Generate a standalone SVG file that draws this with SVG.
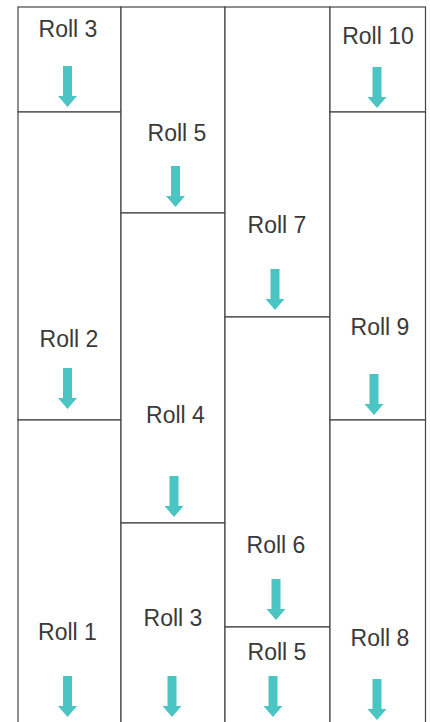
<svg xmlns="http://www.w3.org/2000/svg" xmlns:xlink="http://www.w3.org/1999/xlink" width="430" height="722" viewBox="0 0 430 722">
<style>
.box{fill:#fff;stroke:#444;stroke-width:1.2}
.lbl{font-family:"Liberation Sans",Arial,sans-serif;font-size:23px;fill:#3a3a3a;text-anchor:middle}
.arr{fill:#4bc4c4}
</style>
<defs>
<path id="arrow" d="M-4.5,-41 H4.5 V-11 H9.5 L0,0 L-9.5,-11 H-4.5 Z"/>
</defs>
<rect width="430" height="722" fill="#fff"/>
<g id="col1">
<g id="c1-roll3"><rect class="box" x="18" y="7" width="103" height="105"/><text class="lbl" x="68" y="37">Roll 3</text></g>
<g id="c1-roll2"><rect class="box" x="18" y="112" width="103" height="308"/><text class="lbl" x="69" y="347">Roll 2</text></g>
<g id="c1-roll1"><rect class="box" x="18" y="420" width="103" height="320"/><text class="lbl" x="67.5" y="640">Roll 1</text></g>
</g>
<g id="col2">
<g id="c2-roll5"><rect class="box" x="121" y="7" width="104" height="206"/><text class="lbl" x="177" y="141">Roll 5</text></g>
<g id="c2-roll4"><rect class="box" x="121" y="213" width="104" height="310"/><text class="lbl" x="175.5" y="423">Roll 4</text></g>
<g id="c2-roll3"><rect class="box" x="121" y="523" width="104" height="217"/><text class="lbl" x="173" y="626">Roll 3</text></g>
</g>
<g id="col3">
<g id="c3-roll7"><rect class="box" x="225" y="7" width="105" height="310"/><text class="lbl" x="277" y="233">Roll 7</text></g>
<g id="c3-roll6"><rect class="box" x="225" y="317" width="105" height="310"/><text class="lbl" x="276" y="553">Roll 6</text></g>
<g id="c3-roll5"><rect class="box" x="225" y="627" width="105" height="113"/><text class="lbl" x="277" y="660">Roll 5</text></g>
</g>
<g id="col4">
<g id="c4-roll10"><rect class="box" x="330" y="7" width="95.5" height="105"/><text class="lbl" x="378" y="44">Roll 10</text></g>
<g id="c4-roll9"><rect class="box" x="330" y="112" width="95.5" height="308"/><text class="lbl" x="380" y="335">Roll 9</text></g>
<g id="c4-roll8"><rect class="box" x="330" y="420" width="95.5" height="320"/><text class="lbl" x="380" y="646">Roll 8</text></g>
</g>
<g id="arrows" class="arr">
<use xlink:href="#arrow" x="67.5" y="107"/>
<use xlink:href="#arrow" x="67.5" y="409"/>
<use xlink:href="#arrow" x="67.5" y="717"/>
<use xlink:href="#arrow" x="175.5" y="207"/>
<use xlink:href="#arrow" x="174" y="517"/>
<use xlink:href="#arrow" x="172" y="717"/>
<use xlink:href="#arrow" x="275" y="310"/>
<use xlink:href="#arrow" x="276" y="620"/>
<use xlink:href="#arrow" x="273" y="717"/>
<use xlink:href="#arrow" x="377" y="108"/>
<use xlink:href="#arrow" x="374" y="415"/>
<use xlink:href="#arrow" x="377" y="720"/>
</g>
</svg>
